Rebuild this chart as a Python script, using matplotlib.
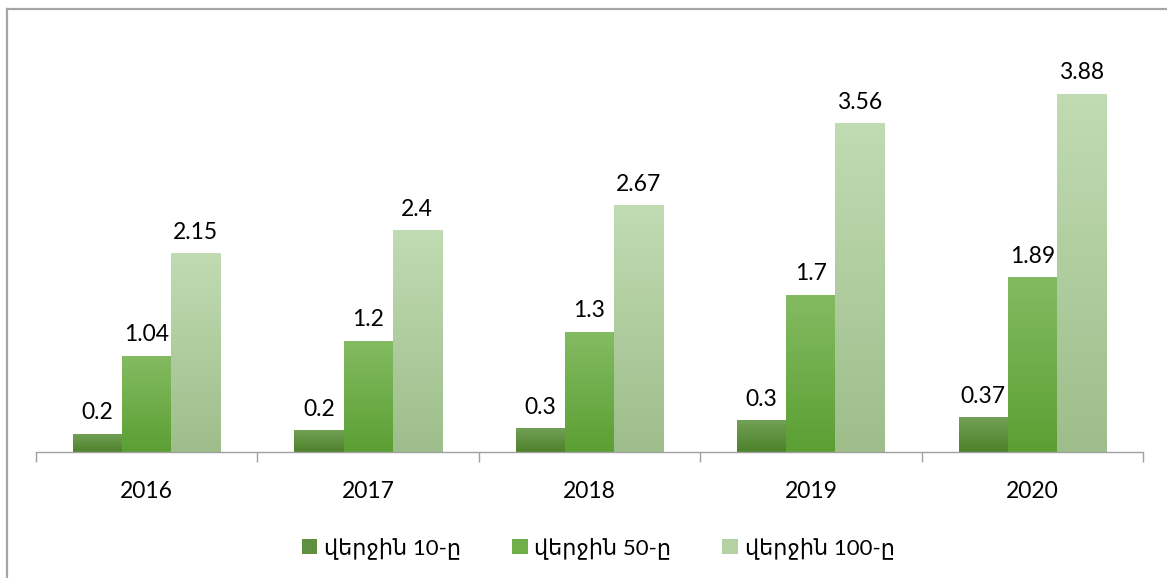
import numpy as np
import matplotlib
matplotlib.use("Agg")
import matplotlib.pyplot as plt
from matplotlib.lines import Line2D
from matplotlib.patches import Patch
from matplotlib.colors import LinearSegmentedColormap

plt.rcParams['font.family'] = ['Lato', 'DejaVu Sans']

years = ['2016', '2017', '2018', '2019', '2020']
series_names = ['վերջին 10-ը', 'վերջին 50-ը', 'վերջին 100-ը']
# bar heights (labels shown are rounded)
top10 = [0.195, 0.23, 0.25, 0.34, 0.37]
top50 = [1.04, 1.2, 1.3, 1.7, 1.89]
top100 = [2.15, 2.4, 2.67, 3.56, 3.88]
labels10 = ['0.2', '0.2', '0.3', '0.3', '0.37']
labels50 = ['1.04', '1.2', '1.3', '1.7', '1.89']
labels100 = ['2.15', '2.4', '2.67', '3.56', '3.88']

series = [top10, top50, top100]
series_labels = [labels10, labels50, labels100]
# (top colour, bottom colour) for each series' vertical gradient
grads = [('#72a056', '#4d8129'), ('#84bb62', '#5b9f33'), ('#c1dbb2', '#9dbe8b')]
legend_cols = ['#5e9040', '#6fae48', '#b3d1a2']

fig = plt.figure(figsize=(11.67, 5.78), dpi=100)
ax = fig.add_axes([36/1167, 1-452/578, (1143-36)/1167, 415/578])

x = np.arange(len(years))
w = 0.222
offsets = [-w, 0, w]

for vals, labs, off, (ctop, cbot) in zip(series, series_labels, offsets, grads):
    bars = ax.bar(x + off, vals, width=w, color='none', edgecolor='none', zorder=2)
    cmap = LinearSegmentedColormap.from_list('g', [cbot, ctop])
    for b, lab in zip(bars, labs):
        bx, by = b.get_x(), b.get_y()
        bw, bh = b.get_width(), b.get_height()
        grad = np.linspace(0, 1, 256).reshape(-1, 1)
        ax.imshow(grad, cmap=cmap, origin='lower', aspect='auto',
                  extent=[bx, bx + bw, by, by + bh], zorder=2, interpolation='bilinear')
        ax.annotate(lab, (bx + bw/2, by + bh), xytext=(0, 8), textcoords='offset points',
                    ha='center', va='bottom', fontsize=16.5, color='#000000')

ax.set_xlim(-0.5, len(years) - 0.5)
ax.set_ylim(0, 4.5)
for s in ['top', 'right', 'left']:
    ax.spines[s].set_visible(False)
ax.spines['bottom'].set_color('#a0a0a0')
ax.spines['bottom'].set_linewidth(1.0)
ax.set_yticks([])
ax.set_xticks(x)
ax.set_xticklabels(years, fontsize=16.5)
ax.set_xticks(np.arange(len(years) + 1) - 0.5, minor=True)
ax.tick_params(axis='x', which='major', length=0, pad=21)
ax.tick_params(axis='x', which='minor', length=7, color='#a0a0a0', width=1.0)

handles = [Patch(facecolor=c, edgecolor='none') for c in legend_cols]
fig.legend(handles, series_names, loc='center', bbox_to_anchor=(598/1167, 1-548/578),
           ncol=3, frameon=False, fontsize=16, handlelength=0.7, handleheight=0.7,
           handletextpad=0.3, columnspacing=2.3)

fig.add_artist(Line2D([6.5/1167, 6.5/1167], [0, 1-8.5/578], transform=fig.transFigure,
                      color='#a6a6a6', lw=1.6))
fig.add_artist(Line2D([6.5/1167, 1], [1-8.5/578, 1-8.5/578], transform=fig.transFigure,
                      color='#a6a6a6', lw=1.6))

fig.savefig('out.png', dpi=100)
